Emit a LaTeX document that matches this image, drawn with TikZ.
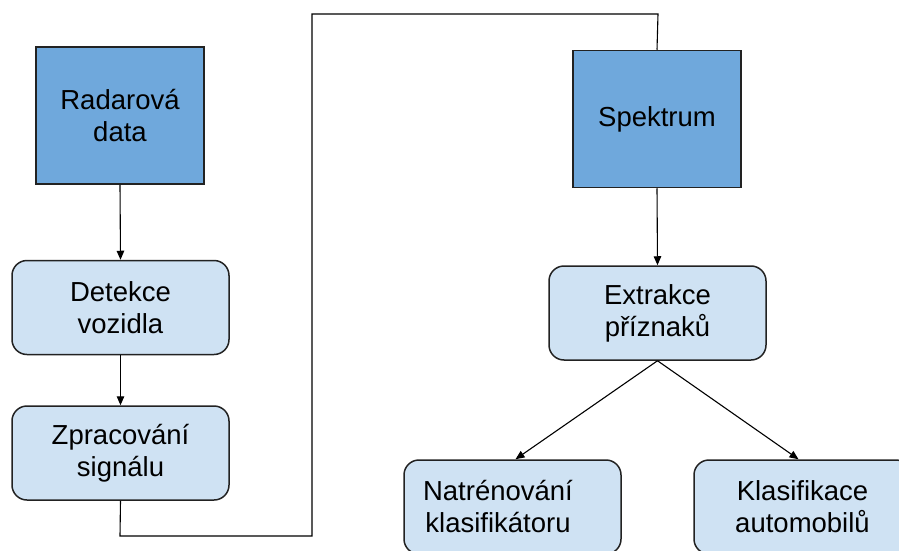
\documentclass[tikz,border=0pt]{standalone}
\usepackage{fontspec}
\setmainfont{Liberation Sans}
\usetikzlibrary{arrows.meta,calc}
\definecolor{darkblue}{HTML}{6FA8DC}
\definecolor{lightblue}{HTML}{CFE2F3}
\definecolor{edgegray}{HTML}{222222}
\tikzset{
  txt/.style={font=\fontsize{27.5pt}{32pt}\selectfont, align=center, text=black},
  srcbox/.style={draw=edgegray, line width=1.5pt, fill=darkblue, txt,
    minimum width=168pt, minimum height=137pt, inner sep=0pt},
  procbox/.style={draw=edgegray, line width=1.5pt, fill=lightblue, txt,
    rounded corners=15pt, minimum width=217pt, minimum height=94pt, inner sep=0pt},
  link/.style={line width=1.1pt, black},
  arr/.style={link, -{Triangle[length=9pt,width=7.5pt]}}
}
\begin{document}
\begin{tikzpicture}[x=1pt, y={(0pt,-1pt)}]
  \useasboundingbox (0,0) rectangle (899,551);
  \clip (0,0) rectangle (899,551);
  \fill[white] (0,0) rectangle (899,551);

  % left column
  \node[srcbox] (radar) at (120,115.5) {Radarová\\data};
  \node[procbox] (detect) at (120.5,307.5) {Detekce\\vozidla};
  \node[procbox] (signal) at (120.5,453) {Zpracování\\signálu};

  % right column
  \node[srcbox] (spectrum) at (657,119) {Spektrum};
  \node[procbox] (features) at (657.5,313) {Extrakce\\příznaků};
  \node[procbox] (train) at (512.5,507) {};
  \node[txt] (traintext) at (498,507) {Natrénování\\klasifikátoru};
  \node[procbox] (classify) at (802.5,507) {Klasifikace\\automobilů};

  % connectors
  \draw[arr] (radar.south) -- (detect.north);
  \draw[arr] (detect.south) -- (signal.north);
  \coordinate (c1) at (120,536);
  \coordinate (c2) at (312,536);
  \coordinate (c3) at (312,14);
  \coordinate (c4) at (658,14);
  \draw[link] (signal.south) -- (c1) -- (c2) -- (c3) -- (c4) -- (spectrum.north);
  \draw[arr] (spectrum.south) -- (features.north);
  \draw[arr] (features.south) -- ($(train.north)+(3,0)$);
  \draw[arr] (features.south) -- ($(classify.north)+(-4,0)$);
\end{tikzpicture}
\end{document}
